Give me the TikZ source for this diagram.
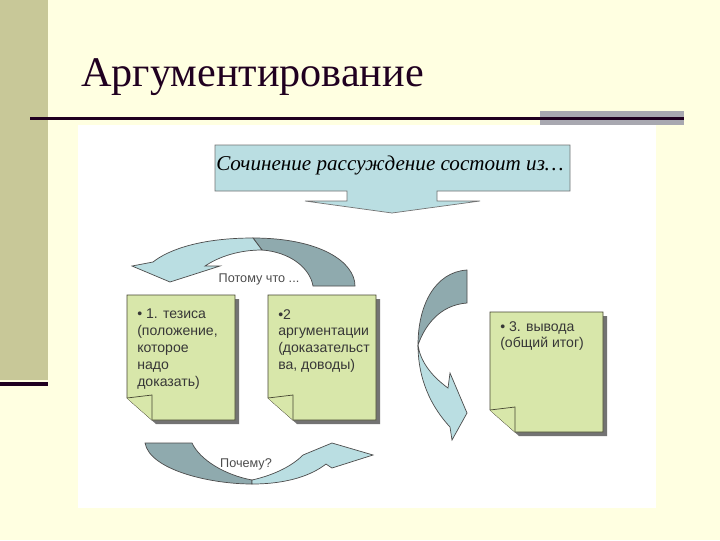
\documentclass[tikz,border=0pt]{standalone}
\usepackage{fontspec}
\setmainfont{Liberation Serif}
\newfontfamily\arialfont{Liberation Sans}
\usetikzlibrary{positioning}
\definecolor{slidebg}{RGB}{255,255,225}
\definecolor{olivebar}{RGB}{200,200,152}
\definecolor{rulecolor}{RGB}{32,0,32}
\definecolor{graybar}{RGB}{168,168,176}
\definecolor{lightarrow}{RGB}{186,222,226}
\definecolor{darkarrow}{RGB}{143,170,174}
\definecolor{notegreen}{RGB}{216,231,170}
\definecolor{noteline}{RGB}{70,70,50}
\definecolor{notetextcol}{RGB}{55,55,55}
\tikzset
{
    notebox/.style    = {draw=noteline, fill=notegreen, line width=0.5pt},
    noteshadow/.style = {fill=black!55, draw=none},
    lightpart/.style  = {draw=black!70, fill=lightarrow, line width=0.5pt},
    darkpart/.style   = {draw=black!70, fill=darkarrow, line width=0.5pt},
    notetext/.style   = {anchor=north west, align=left, inner sep=0pt, text=notetextcol, font=\arialfont\fontsize{10}{12}\selectfont},
    arrowlabel/.style = {inner sep=0pt, text=black!70, font=\arialfont\fontsize{9}{11}\selectfont}
}
\newcommand{\stickynote}[4]{%
  \fill[noteshadow] ({#1+4},{#2+4}) -- ({#3+4},{#2+4}) -- ({#3+4},{#4+4}) -- ({#1+29},{#4+4}) -- ({#1+4},{#4-18}) -- cycle;
  \draw[notebox] (#1,#2) -- (#3,#2) -- (#3,#4) -- ({#1+25},#4) -- (#1,{#4-22}) -- cycle;
  \draw[notebox] (#1,{#4-22}) -- ({#1+25},{#4-25}) -- ({#1+25},#4);
}

\begin{document}
\begin{tikzpicture}
    [x=0.025cm, y=-0.025cm]
    \fill[slidebg] (0,0) rectangle (720,540);
    \useasboundingbox (0,0) rectangle (720,540);
    \fill[olivebar] (0,0) rectangle (48,380);
    \fill[rulecolor] (0,382) rectangle (48,386);
    \fill[graybar] (540,111) rectangle (684,125);
    \fill[rulecolor] (30,117) rectangle (684,119.5);
    \fill[white] (78,125) rectangle (656,508);
    \node[anchor=base west, inner sep=0pt, text=rulecolor, font=\fontsize{30}{36}\selectfont] (title) at (81,86) {Аргументирование};

    \draw[lightpart, draw=black!55] (215,145) -- (570,145) -- (570,191) -- (437,191) -- (437,201) -- (480,201) -- (392,213) -- (305,201) -- (347,201) -- (347,191) -- (215,191) -- cycle;
    \node[font=\itshape\fontsize{15}{18}\selectfont, inner sep=0pt] (question) at (390,165) {Сочинение рассуждение состоит из\dots};

    \draw[darkpart] (253,238) .. controls (320,238) and (355,262) .. (355,286) -- (313,286) .. controls (310,268) and (290,252) .. (262,250) -- cycle;
    \draw[lightpart] (253,238) .. controls (200,238) and (168,250) .. (153,262) -- (132,266) -- (170,282) -- (220,266) -- (205,266) .. controls (220,256) and (240,250) .. (262,250) -- cycle;
    \node[arrowlabel] (because) at (259,279) {Потому что ...};

    \stickynote{127}{295}{235}{420}
    \stickynote{268}{295}{376}{420}
    \stickynote{490}{312}{603}{432}
    \node[notetext] (thesis) at (137,309) {• 1. тезиса\\(положение,\\которое\\надо\\доказать)};
    \node[notetext] (argument) at (278,309) {•2\\аргументации\\(доказательст\\ва, доводы)};
    \node[notetext] (conclusion) at (500,321) {• 3. вывода\\(общий итог)};

    \draw[darkpart] (467,270) .. controls (435,272) and (418,305) .. (418,345) .. controls (425,325) and (440,305) .. (467,303) -- cycle;
    \draw[lightpart] (418,345) .. controls (418,370) and (425,400) .. (450,427) -- (452,440) -- (467,413) -- (450,373) -- (448,388) .. controls (430,375) and (420,360) .. (418,345) -- cycle;

    \draw[darkpart] (145,443) -- (192,443) .. controls (200,460) and (225,475) .. (252,480) -- (252,484) .. controls (210,484) and (150,470) .. (145,443) -- cycle;
    \draw[lightpart] (252,484) .. controls (288,484) and (312,475) .. (326,464) -- (332,468) -- (373,455) -- (332,443) -- (303,455) .. controls (290,468) and (270,476) .. (252,480) -- cycle;
    \node[arrowlabel] (why) at (246,464) {Почему?};
\end{tikzpicture}
\end{document}
